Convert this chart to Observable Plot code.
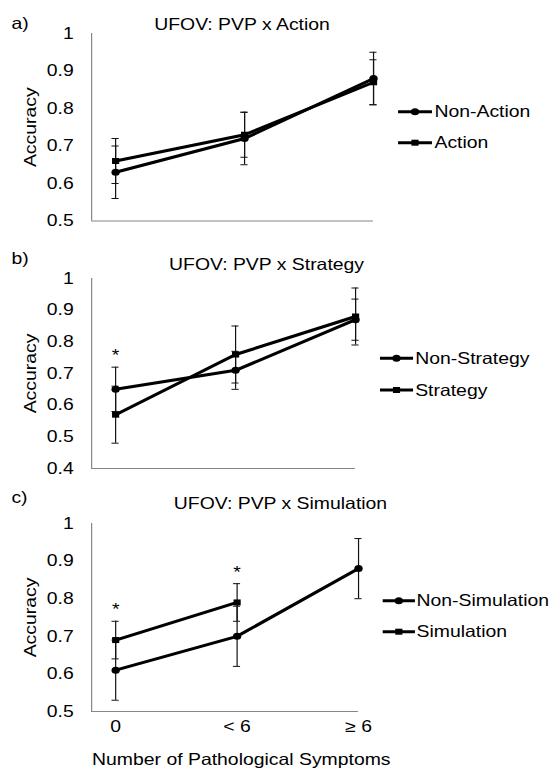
<!DOCTYPE html>
<html>
<head>
<meta charset="utf-8">
<script src="https://cdn.jsdelivr.net/npm/d3@7"></script>
<script src="https://cdn.jsdelivr.net/npm/@observablehq/plot@0.6"></script>
<style>
  html, body { margin: 0; padding: 0; background: #fff; }
  /* the whole figure is drawn in a narrower space and widened horizontally */
  #page {
    position: relative;
    width: 465.5px;
    height: 772px;
    transform: scaleX(1.19);
    transform-origin: 0 0;
    font-family: "Liberation Sans", Arial, sans-serif;
  }
  #page .panel { position: absolute; left: 0; }
  #page svg { display: block; }
  #overlay { position: absolute; left: 0; top: 0; pointer-events: none; }
</style>
</head>
<body>
<div id="page"></div>
<script>
// Category labels on the x axis
const categories = ["0", "< 6", "≥ 6"];

// a) UFOV: PVP x Action
const nonActionMean = [0.63, 0.72, 0.88];
const nonActionErr  = [0.07, 0.07, 0.07];
const actionMean    = [0.66, 0.73, 0.87];
const actionErr     = [0.06, 0.06, 0.06];
const actionStars   = [];

// b) UFOV: PVP x Strategy
const nonStrategyMean = [0.65, 0.71, 0.87];
const nonStrategyErr  = [0.07, 0.06, 0.065];
const strategyMean    = [0.57, 0.76, 0.88];
const strategyErr     = [0.09, 0.09, 0.09];
const strategyStars   = [0];

// c) UFOV: PVP x Simulation
const nonSimulationMean = [0.61, 0.70, 0.88];
const nonSimulationErr  = [0.08, 0.08, 0.08];
const simulationMean    = [0.69, 0.79, null];
const simulationErr     = [0.05, 0.05, null];
const simulationStars   = [0, 1];

// y-axis ticks
const yTicksAC = [0.5, 0.6, 0.7, 0.8, 0.9, 1];
const yTicksB  = [0.4, 0.5, 0.6, 0.7, 0.8, 0.9, 1];

const W = 465.5;
const STRETCH = 1.19;
const FONT = "16.3px";
const FAMILY = "'Liberation Sans', Arial, sans-serif";

function rows(series, shape, means, errs) {
  return means
    .map((v, i) => (v == null ? null : {series, shape, i, v, lo: v - errs[i], hi: v + errs[i]}))
    .filter(d => d);
}

function panel(cfg) {
  const data = [
    ...rows(cfg.names[0], "circle", cfg.means[0], cfg.errs[0]),
    ...rows(cfg.names[1], "square", cfg.means[1], cfg.errs[1])
  ];
  const starRows = cfg.stars.map(i => ({i, top: d3.max(data.filter(d => d.i === i), d => d.hi)}));
  const capStyle = {stroke: "#111", strokeWidth: 1, insetLeft: -3, insetRight: -3};
  const chart = Plot.plot({
    width: W,
    height: cfg.height,
    marginTop: cfg.marginTop,
    marginBottom: cfg.marginBottom,
    marginLeft: 76.5,
    marginRight: cfg.marginRight,
    style: `font-size: ${FONT}; font-family: ${FAMILY}; color: #000; background: transparent; overflow: visible;`,
    x: {
      domain: [cfg.xMin, 2],
      axis: cfg.showX ? "bottom" : null,
      ticks: [0, 1, 2],
      tickFormat: i => categories[i],
      tickSize: 0,
      tickPadding: 9,
      label: null
    },
    y: {
      domain: [cfg.yTicks[0], 1],
      ticks: cfg.yTicks,
      tickFormat: v => (v === 1 ? "1" : v.toFixed(1)),
      tickSize: 0,
      tickPadding: 15,
      label: null
    },
    marks: [
      Plot.ruleX([cfg.xMin], {stroke: "#868686", strokeWidth: 1}),
      Plot.ruleY([cfg.yTicks[0]], {stroke: "#868686", strokeWidth: 1}),
      Plot.ruleX(data, {x: "i", y1: "lo", y2: "hi", stroke: "#111", strokeWidth: 1}),
      Plot.ruleY(data, {x1: "i", x2: "i", y: "lo", ...capStyle}),
      Plot.ruleY(data, {x1: "i", x2: "i", y: "hi", ...capStyle}),
      Plot.line(data, {x: "i", y: "v", z: "series", stroke: "#000", strokeWidth: 3}),
      Plot.dot(data.filter(d => d.shape === "circle"), {x: "i", y: "v", r: 3.5, symbol: "circle", fill: "#000"}),
      Plot.dot(data.filter(d => d.shape === "square"), {x: "i", y: "v", r: 3.4, symbol: "square", fill: "#000"}),
      Plot.text(starRows, {x: "i", y: "top", text: () => "*", dy: -11, fill: "#000"}),
      Plot.text(["Accuracy"], {frameAnchor: "left", textAnchor: "middle", rotate: -90, dx: -51.5, text: d => d, fill: "#000"})
    ]
  });
  // the rotated axis title keeps the same wide lettering as the horizontal text
  d3.select(chart).selectAll("text")
    .filter(function () { return this.textContent === "Accuracy"; })
    .attr("transform", function () {
      return (this.getAttribute("transform") || "") + ` scale(${STRETCH},${1 / STRETCH})`;
    });
  return chart;
}

const panels = [
  {
    top: 0, height: 240, marginTop: 33, marginBottom: 19.5, marginRight: 152.1, xMin: -0.186,
    yTicks: yTicksAC, showX: false,
    names: ["Non-Action", "Action"],
    means: [nonActionMean, actionMean], errs: [nonActionErr, actionErr], stars: actionStars,
    letter: "a)", title: "UFOV: PVP x Action",
    letterY: 28.6, titleX: 203.4, titleY: 30,
    legend: {x1: 334.5, x2: 363, tx: 365.1, y: [111.7, 142.7]}
  },
  {
    top: 240, height: 240, marginTop: 38, marginBottom: 12, marginRight: 167.2, xMin: -0.2,
    yTicks: yTicksB, showX: false,
    names: ["Non-Strategy", "Strategy"],
    means: [nonStrategyMean, strategyMean], errs: [nonStrategyErr, strategyErr], stars: strategyStars,
    letter: "b)", title: "UFOV: PVP x Strategy",
    letterY: 263.6, titleX: 224, titleY: 270.2,
    legend: {x1: 319.3, x2: 347.1, tx: 348.9, y: [358.3, 390]}
  },
  {
    top: 480, height: 292, marginTop: 43, marginBottom: 61, marginRight: 164.7, xMin: -0.198,
    yTicks: yTicksAC, showX: true,
    names: ["Non-Simulation", "Simulation"],
    means: [nonSimulationMean, simulationMean], errs: [nonSimulationErr, simulationErr], stars: simulationStars,
    letter: "c)", title: "UFOV: PVP x Simulation",
    letterY: 503.2, titleX: 235.7, titleY: 509.5,
    legend: {x1: 321.6, x2: 348.7, tx: 350, y: [600.7, 631.7]}
  }
];

const page = document.getElementById("page");
for (const cfg of panels) {
  const div = document.createElement("div");
  div.className = "panel";
  div.style.top = cfg.top + "px";
  div.appendChild(panel(cfg));
  page.appendChild(div);
}

// Panel letters, titles, legends and the shared x-axis title
const svg = d3.select(page).append("svg")
  .attr("id", "overlay")
  .attr("width", W)
  .attr("height", 772)
  .attr("font-family", FAMILY)
  .attr("font-size", FONT)
  .attr("fill", "#000");

for (const cfg of panels) {
  svg.append("text").attr("x", 9.6).attr("y", cfg.letterY).text(cfg.letter);
  svg.append("text").attr("x", cfg.titleX).attr("y", cfg.titleY).attr("text-anchor", "middle").text(cfg.title);
  const L = cfg.legend;
  const mid = (L.x1 + L.x2) / 2;
  cfg.names.forEach((name, k) => {
    const y = L.y[k];
    svg.append("line").attr("x1", L.x1).attr("x2", L.x2).attr("y1", y).attr("y2", y)
      .attr("stroke", "#000").attr("stroke-width", 3);
    if (k === 0) svg.append("circle").attr("cx", mid).attr("cy", y).attr("r", 3.5);
    else svg.append("rect").attr("x", mid - 3).attr("y", y - 3).attr("width", 6).attr("height", 6);
    svg.append("text").attr("x", L.tx).attr("y", y + 5.8).text(name);
  });
}

svg.append("text").attr("x", 202.8).attr("y", 765).attr("text-anchor", "middle")
  .text("Number of Pathological Symptoms");
</script>
</body>
</html>
